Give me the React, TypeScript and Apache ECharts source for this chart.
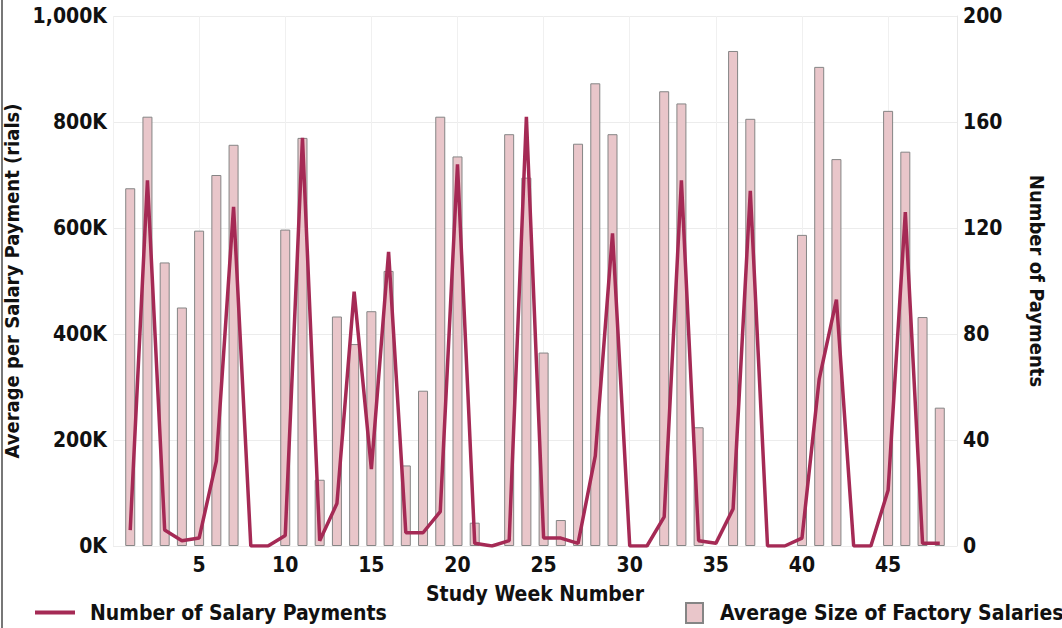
import React, { useEffect, useRef } from "react";
import * as echarts from "echarts";

const weeks = Array.from({ length: 48 }, (_, i) => i + 1);
const avgSalaryK: (number | null)[] = [
  675, 810, 535, 450, 595, 700, 757, null, null, 597,
  770, 125, 433, 381, 443, 519, 152, 293, 810, 735,
  44, null, 777, 695, 365, 49, 759, 873, 777, null,
  null, 858, 835, 224, null, 934, 806, null, null, 587,
  904, 730, null, null, 821, 744, 432, 261,
];
const numPayments: number[] = [
  6, 138, 6, 2, 3, 32, 128, 0, 0, 4,
  154, 2, 16, 96, 29, 111, 5, 5, 13, 144,
  1, 0, 2, 162, 3, 3, 1, 34, 118, 0,
  0, 11, 138, 2, 1, 14, 134, 0, 0, 3,
  63, 93, 0, 0, 21, 126, 1, 1,
];
const leftTicksMax = 1000000;
const rightTicksMax = 200;

const FONT = "'Liberation Sans Narrow', 'DejaVu Sans Condensed', 'Roboto', sans-serif";

export default function App() {
  const ref = useRef<HTMLDivElement>(null);
  useEffect(() => {
    if (!ref.current) return;
    const chart = echarts.init(ref.current, undefined, { renderer: "svg" });
    const txt = { fontFamily: FONT, fontWeight: "bold" as const, color: "#111", fontSize: 21 };
    chart.setOption({
      animation: false,
      backgroundColor: "#ffffff",
      textStyle: { fontFamily: FONT },
      graphic: [
        { type: "line", shape: { x1: 2, y1: 0, x2: 2, y2: 628 }, style: { stroke: "#777", lineWidth: 2 } },
      ],
      grid: { left: 113, right: 105, top: 16, bottom: 82, outerBoundsMode: "none", containLabel: false },
      legend: [
        {
          data: [{ name: "Number of Salary Payments", icon: "rect" }],
          left: 30,
          top: 597,
          itemWidth: 40,
          itemHeight: 4,
          itemGap: 10,
          textStyle: { ...txt, padding: [0, 0, 0, 10] },
        },
        {
          data: [{ name: "Average Size of Factory Salaries", icon: "rect" }],
          left: 680,
          top: 597,
          itemWidth: 17,
          itemHeight: 20,
          textStyle: { ...txt, padding: [0, 0, 0, 12] },
        },
      ],
      xAxis: {
        type: "value",
        min: 0,
        max: 49,
        interval: 5,
        name: "Study Week Number",
        nameLocation: "middle",
        nameGap: 37,
        nameTextStyle: { ...txt },
        axisLine: { show: false },
        axisTick: { show: false },
        axisLabel: { ...txt, showMinLabel: false, showMaxLabel: false, margin: 8 },
        splitLine: { show: true, lineStyle: { color: "#f0f0f0", width: 1 } },
      },
      yAxis: [
        {
          type: "value",
          min: 0,
          max: leftTicksMax,
          interval: 200000,
          name: "Average per Salary Payment (rials)",
          nameLocation: "middle",
          nameGap: 83,
          nameTextStyle: { ...txt, fontSize: 20 },
          axisLine: { show: false },
          axisTick: { show: false },
          axisLabel: {
            ...txt,
            margin: 6,
            formatter: (v: number) => `${(v / 1000).toLocaleString("en-US")}K`,
          },
          splitLine: { show: true, lineStyle: { color: "#ececec", width: 1 } },
        },
        {
          type: "value",
          min: 0,
          max: rightTicksMax,
          interval: 40,
          name: "Number of Payments",
          nameLocation: "middle",
          nameGap: 70,
          nameRotate: -90,
          nameTextStyle: { ...txt, fontSize: 20 },
          position: "right",
          axisLine: { show: true, lineStyle: { color: "#e8e8e8", width: 1 } },
          axisTick: { show: false },
          axisLabel: { ...txt, margin: 6 },
          splitLine: { show: false },
        },
      ],
      series: [
        {
          name: "Average Size of Factory Salaries",
          type: "bar",
          yAxisIndex: 0,
          barWidth: 10,
          itemStyle: { color: "#e9c6ca", borderColor: "#858585", borderWidth: 1 },
          data: weeks.map((w, i) => [w, avgSalaryK[i] == null ? null : (avgSalaryK[i] as number) * 1000]),
          z: 2,
        },
        {
          name: "Number of Salary Payments",
          type: "line",
          yAxisIndex: 1,
          symbol: "none",
          lineStyle: { color: "#a52a55", width: 3.5 },
          itemStyle: { color: "#a52a55" },
          data: weeks.map((w, i) => [w, numPayments[i]]),
          z: 3,
        },
      ],
    });
    return () => chart.dispose();
  }, []);
  return (
    <div
      ref={ref}
      style={{ position: "fixed", left: 0, top: 0, width: 1062, height: 628 }}
    />
  );
}
